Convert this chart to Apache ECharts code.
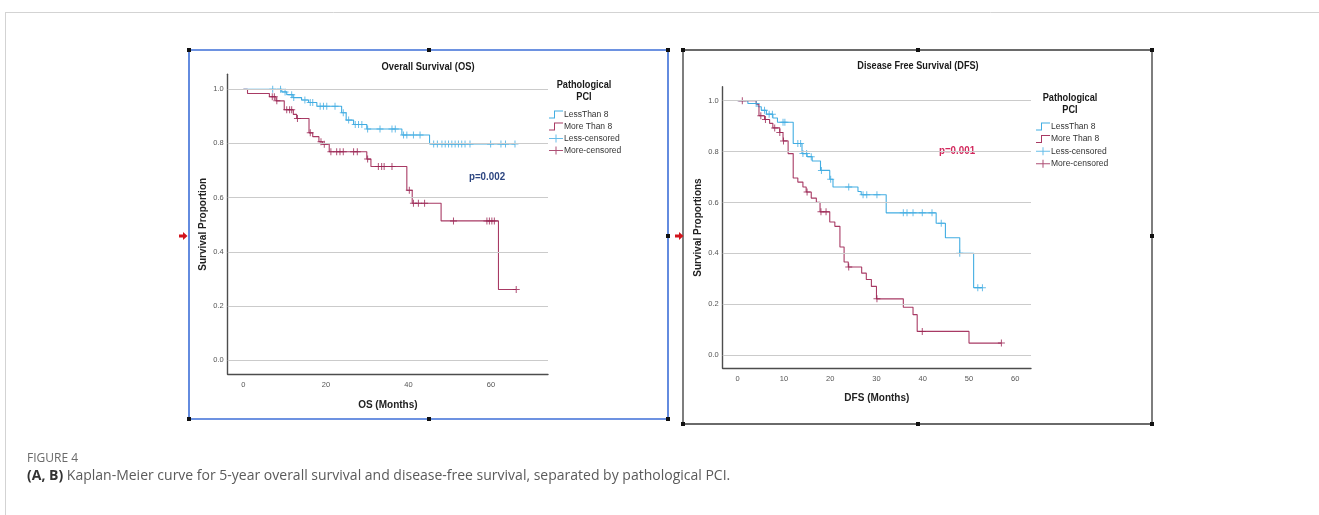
<!DOCTYPE html>
<html><head><meta charset="utf-8">
<script src="https://cdn.jsdelivr.net/npm/echarts@6/dist/echarts.min.js"></script>
<style>html,body{margin:0;padding:0;background:#fff}#c{width:1319px;height:515px}</style>
</head><body><div id="c"></div>
<script>
// ---------- DATA ----------
const groupNames = ['LessThan 8', 'More Than 8', 'Less-censored', 'More-censored'];
const yTicks = [0, 0.2, 0.4, 0.6, 0.8, 1.0];
const osXTicks = [0, 20, 40, 60];
const dfsXTicks = [0, 10, 20, 30, 40, 50, 60];

// Overall survival – PCI less than 8
const osLessTimes = [0, 9.3, 10.5, 12.0, 14.1, 15.8, 17.8, 23.8, 24.9, 26.7, 29.9, 38.4, 45.1];
const osLessSurv  = [1.0, 0.990, 0.980, 0.969, 0.960, 0.951, 0.937, 0.913, 0.886, 0.870, 0.853, 0.831, 0.798];
const osLessCens  = [7.1, 9.0, 10.1, 11.7, 12.2, 14.9, 16.2, 16.8, 18.6, 19.4, 20.2, 22.2, 24.2, 25.5, 27.1, 27.9, 28.7, 30.1, 33.1, 36.0, 36.8, 38.8, 39.6, 41.2, 42.8, 46.1, 47.0, 48.1, 48.9, 49.7, 50.5, 51.3, 52.1, 52.9, 53.7, 54.9, 59.9, 62.4, 63.5, 65.8];
// Overall survival – PCI more than 8
const osMoreTimes = [0, 1.0, 6.3, 7.9, 9.9, 12.1, 12.9, 15.9, 16.8, 18.3, 19.2, 20.8, 29.9, 30.9, 39.6, 40.9, 47.9, 61.8];
const osMoreSurv  = [1.0, 0.984, 0.972, 0.957, 0.924, 0.907, 0.892, 0.839, 0.825, 0.806, 0.797, 0.769, 0.742, 0.715, 0.627, 0.579, 0.514, 0.261];
const osMoreCens  = [7.0, 7.5, 8.1, 10.5, 11.2, 11.7, 13.1, 16.2, 18.8, 19.6, 21.2, 22.6, 23.4, 24.2, 26.7, 27.6, 30.1, 32.7, 33.5, 34.1, 36.0, 40.2, 41.2, 42.4, 43.9, 50.9, 59.0, 59.6, 60.2, 60.8, 66.1];

// Disease free survival – PCI less than 8
const dfsLessTimes = [0, 2.2, 4.4, 5.1, 6.2, 7.6, 8.6, 12.0, 13.9, 15.0, 16.1, 17.9, 19.9, 20.6, 26.0, 26.7, 32.1, 42.9, 44.9, 48.0, 51.0];
const dfsLessSurv  = [1.0, 0.989, 0.976, 0.962, 0.947, 0.932, 0.915, 0.832, 0.792, 0.780, 0.763, 0.726, 0.691, 0.661, 0.643, 0.630, 0.559, 0.518, 0.461, 0.400, 0.265];
const dfsLessCens  = [4.0, 5.8, 6.8, 7.5, 9.8, 10.2, 13.0, 13.6, 14.1, 14.9, 15.9, 18.1, 20.1, 24.0, 27.1, 27.9, 30.1, 35.8, 36.6, 37.9, 39.9, 42.0, 44.0, 48.0, 51.9, 52.9];
// Disease free survival – PCI more than 8
const dfsMoreTimes = [0, 4.0, 4.6, 5.8, 6.9, 7.6, 9.1, 9.8, 10.9, 12.0, 13.0, 14.1, 14.8, 15.9, 17.0, 17.8, 19.9, 21.0, 22.1, 23.0, 23.9, 26.8, 27.8, 28.9, 30.0, 35.8, 37.9, 38.8, 50.0];
const dfsMoreSurv  = [1.0, 0.986, 0.941, 0.926, 0.911, 0.893, 0.875, 0.842, 0.792, 0.696, 0.680, 0.661, 0.641, 0.617, 0.601, 0.563, 0.523, 0.506, 0.425, 0.366, 0.346, 0.322, 0.297, 0.270, 0.221, 0.188, 0.159, 0.093, 0.047];
const dfsMoreCens  = [1.0, 5.0, 6.0, 8.0, 9.1, 9.9, 15.0, 18.0, 19.1, 24.0, 30.1, 39.9, 57.0];

// ---------- HELPERS ----------
function survAt(times, surv, t) { let v = surv[0]; for (let i = 0; i < times.length; i++) if (times[i] <= t) v = surv[i]; return v; }
function curve(times, surv, cens) {
  const d = times.map((t, i) => [t, surv[i]]);
  const last = Math.max(...cens);
  if (last > times[times.length - 1]) d.push([last, surv[surv.length - 1]]);
  return d;
}
function censPts(times, surv, cens) { return cens.map(t => [t, survAt(times, surv, t)]); }

const FONT = '"Liberation Sans", Arial, sans-serif';
const BLUE = '#42ade2', RED = '#a83a64', RED_C = '#9a2452';
const GRIDC = '#cbcbcb', AXC = '#4d4d4d', LABC = '#555';
const PLUS = 'path://M3,0H4V3H7V4H4V7H3V4H0V3H3Z';
const STEP_ICON = 'path://M0,7H5V0H14V1H6V8H0Z';
const PLUS_ICON = 'path://M0,3.5H6.5V0H7.5V3.5H14V4.5H7.5V8H6.5V4.5H0Z';

const gridLines = {
  silent: true, symbol: 'none', label: { show: false }, animation: false,
  lineStyle: { color: GRIDC, width: 1, type: 'solid' },
  data: yTicks.map(v => ({ yAxis: v }))
};

function lineSeries(name, data, color, gi, withGrid) {
  const s = { type: 'line', name, data, step: 'end', xAxisIndex: gi, yAxisIndex: gi,
    showSymbol: false, symbol: 'none', lineStyle: { color, width: 1.1 }, itemStyle: { color }, z: 3 };
  if (withGrid) s.markLine = gridLines;
  return s;
}
function censSeries(name, data, color, gi) {
  return { type: 'scatter', name, data, xAxisIndex: gi, yAxisIndex: gi, symbol: PLUS, symbolSize: 7,
    itemStyle: { color }, z: 4 };
}

function xAxis(gi, min, max, ticks, name, gap) {
  return { type: 'value', gridIndex: gi, min, max,
    axisLine: { show: true, onZero: false, lineStyle: { color: AXC, width: 1.4 } },
    axisTick: { show: false }, splitLine: { show: false },
    axisLabel: { customValues: ticks, fontFamily: FONT, fontSize: 7.5, color: LABC, margin: 7 },
    name, nameLocation: 'middle', nameGap: gap,
    nameTextStyle: { fontFamily: FONT, fontSize: 10, fontWeight: 'bold', color: '#222' } };
}
function yAxis(gi, name) {
  return { type: 'value', gridIndex: gi, min: -0.052, max: 1.055,
    axisLine: { show: true, onZero: false, lineStyle: { color: AXC, width: 1.4 } },
    axisTick: { show: false }, splitLine: { show: false },
    axisLabel: { customValues: yTicks, formatter: v => v.toFixed(1), fontFamily: FONT, fontSize: 7.5, color: LABC, margin: 4 },
    name, nameLocation: 'middle', nameGap: 19,
    nameTextStyle: { fontFamily: FONT, fontSize: 10, fontWeight: 'bold', color: '#222' } };
}

function legend(left, top, gap) {
  return { left, top, padding: 0, orient: 'vertical', itemWidth: 14, itemHeight: 8, itemGap: gap,
    selectedMode: false,
    data: [
      { name: groupNames[0], icon: STEP_ICON },
      { name: groupNames[1], icon: STEP_ICON },
      { name: groupNames[2], icon: PLUS_ICON },
      { name: groupNames[3], icon: PLUS_ICON }
    ],
    textStyle: { fontFamily: FONT, fontSize: 8.5, color: '#333', lineHeight: 10, padding: [0, 0, 0, -4] } };
}

function txt(text, x, y, font, fill, sx) {
  return { type: 'text', x, y, silent: true, scaleX: sx || 1,
    style: { text, font, fill, align: 'center', verticalAlign: 'middle' } };
}
function handle(x, y) { return { type: 'rect', shape: { x: x - 2, y: y - 2, width: 4, height: 4 }, style: { fill: '#111' }, silent: true }; }
function arrow(x, y) {
  return { type: 'polygon', silent: true, style: { fill: '#d2141c' },
    shape: { points: [[x - 4, y - 1.5], [x, y - 1.5], [x, y - 4], [x + 4.5, y], [x, y + 4], [x, y + 1.5], [x - 4, y + 1.5]] } };
}

const boldT = 'bold 11px ' + FONT;
const option = {
  animation: false,
  grid: [
    { left: 227.7, top: 74.3, width: 320.3, height: 300 },
    { left: 722.7, top: 86.7, width: 308.3, height: 281.6 }
  ],
  xAxis: [xAxis(0, -3.8, 73.8, osXTicks, 'OS (Months)', 25.5), xAxis(1, -3.24, 63.4, dfsXTicks, 'DFS (Months)', 25)],
  yAxis: [yAxis(0, 'Survival Proportion'), yAxis(1, 'Survival Proportions')],
  legend: [legend(549, 109.5, 2.0), legend(1036, 121.5, 2.4)],
  series: [
    lineSeries(groupNames[1], curve(osMoreTimes, osMoreSurv, osMoreCens), RED, 0, true),
    lineSeries(groupNames[0], curve(osLessTimes, osLessSurv, osLessCens), BLUE, 0, false),
    censSeries(groupNames[2], censPts(osLessTimes, osLessSurv, osLessCens), BLUE, 0),
    censSeries(groupNames[3], censPts(osMoreTimes, osMoreSurv, osMoreCens), RED_C, 0),
    lineSeries(groupNames[0], curve(dfsLessTimes, dfsLessSurv, dfsLessCens), BLUE, 1, true),
    lineSeries(groupNames[1], curve(dfsMoreTimes, dfsMoreSurv, dfsMoreCens), RED, 1, false),
    censSeries(groupNames[2], censPts(dfsLessTimes, dfsLessSurv, dfsLessCens), BLUE, 1),
    censSeries(groupNames[3], censPts(dfsMoreTimes, dfsMoreSurv, dfsMoreCens), RED_C, 1)
  ],
  graphic: [
    // page card lines
    { type: 'line', silent: true, shape: { x1: 5, y1: 12.5, x2: 1319, y2: 12.5 }, style: { stroke: '#d3d3d3', lineWidth: 1 } },
    { type: 'line', silent: true, shape: { x1: 5.5, y1: 12, x2: 5.5, y2: 515 }, style: { stroke: '#d3d3d3', lineWidth: 1 } },
    // panel frames
    { type: 'rect', silent: true, shape: { x: 189, y: 50, width: 479, height: 369 }, style: { fill: 'none', stroke: '#3e6fd8', lineWidth: 1.6 } },
    { type: 'rect', silent: true, shape: { x: 683, y: 50, width: 469, height: 374 }, style: { fill: 'none', stroke: '#3a3a3a', lineWidth: 1.3 } },
    handle(189, 50), handle(429, 50), handle(668, 50), handle(668, 236), handle(668, 419), handle(429, 419), handle(189, 419),
    handle(683, 50), handle(918, 50), handle(1152, 50), handle(1152, 236), handle(1152, 424), handle(918, 424), handle(683, 424),
    arrow(183, 236), arrow(679, 236),
    // titles
    txt('Overall Survival (OS)', 428, 66.5, boldT, '#1a1a1a', 0.85),
    txt('Disease Free Survival (DFS)', 918, 65.7, boldT, '#1a1a1a', 0.83),
    // legend titles
    txt('Pathological', 584, 85, 'bold 11.5px ' + FONT, '#1a1a1a', 0.8),
    txt('PCI', 584, 97.3, 'bold 11.5px ' + FONT, '#1a1a1a', 0.8),
    txt('Pathological', 1070, 97.7, 'bold 11.5px ' + FONT, '#1a1a1a', 0.8),
    txt('PCI', 1070, 110, 'bold 11.5px ' + FONT, '#1a1a1a', 0.8),
    // p values
    txt('p=0.002', 487, 177, 'bold 11.5px ' + FONT, '#2c4580', 0.85),
    txt('p=0.001', 957, 151, 'bold 11.5px ' + FONT, '#d2285c', 0.85),
    // caption
    { type: 'text', x: 27, y: 459, silent: true,
      style: { text: 'FIGURE 4', font: '12px "Open Sans", sans-serif', fill: '#6a6a6a', verticalAlign: 'middle' } },
    { type: 'text', x: 27, y: 476, silent: true,
      style: { text: '{b|(A, B)} Kaplan-Meier curve for 5-year overall survival and disease-free survival, separated by pathological PCI.',
        font: '14px "Open Sans", sans-serif', fill: '#5a5a5a', verticalAlign: 'middle',
        rich: { b: { font: 'bold 14px "Open Sans", sans-serif', fill: '#333' } } } }
  ]
};
echarts.init(document.getElementById('c')).setOption(option);
</script></body></html>
